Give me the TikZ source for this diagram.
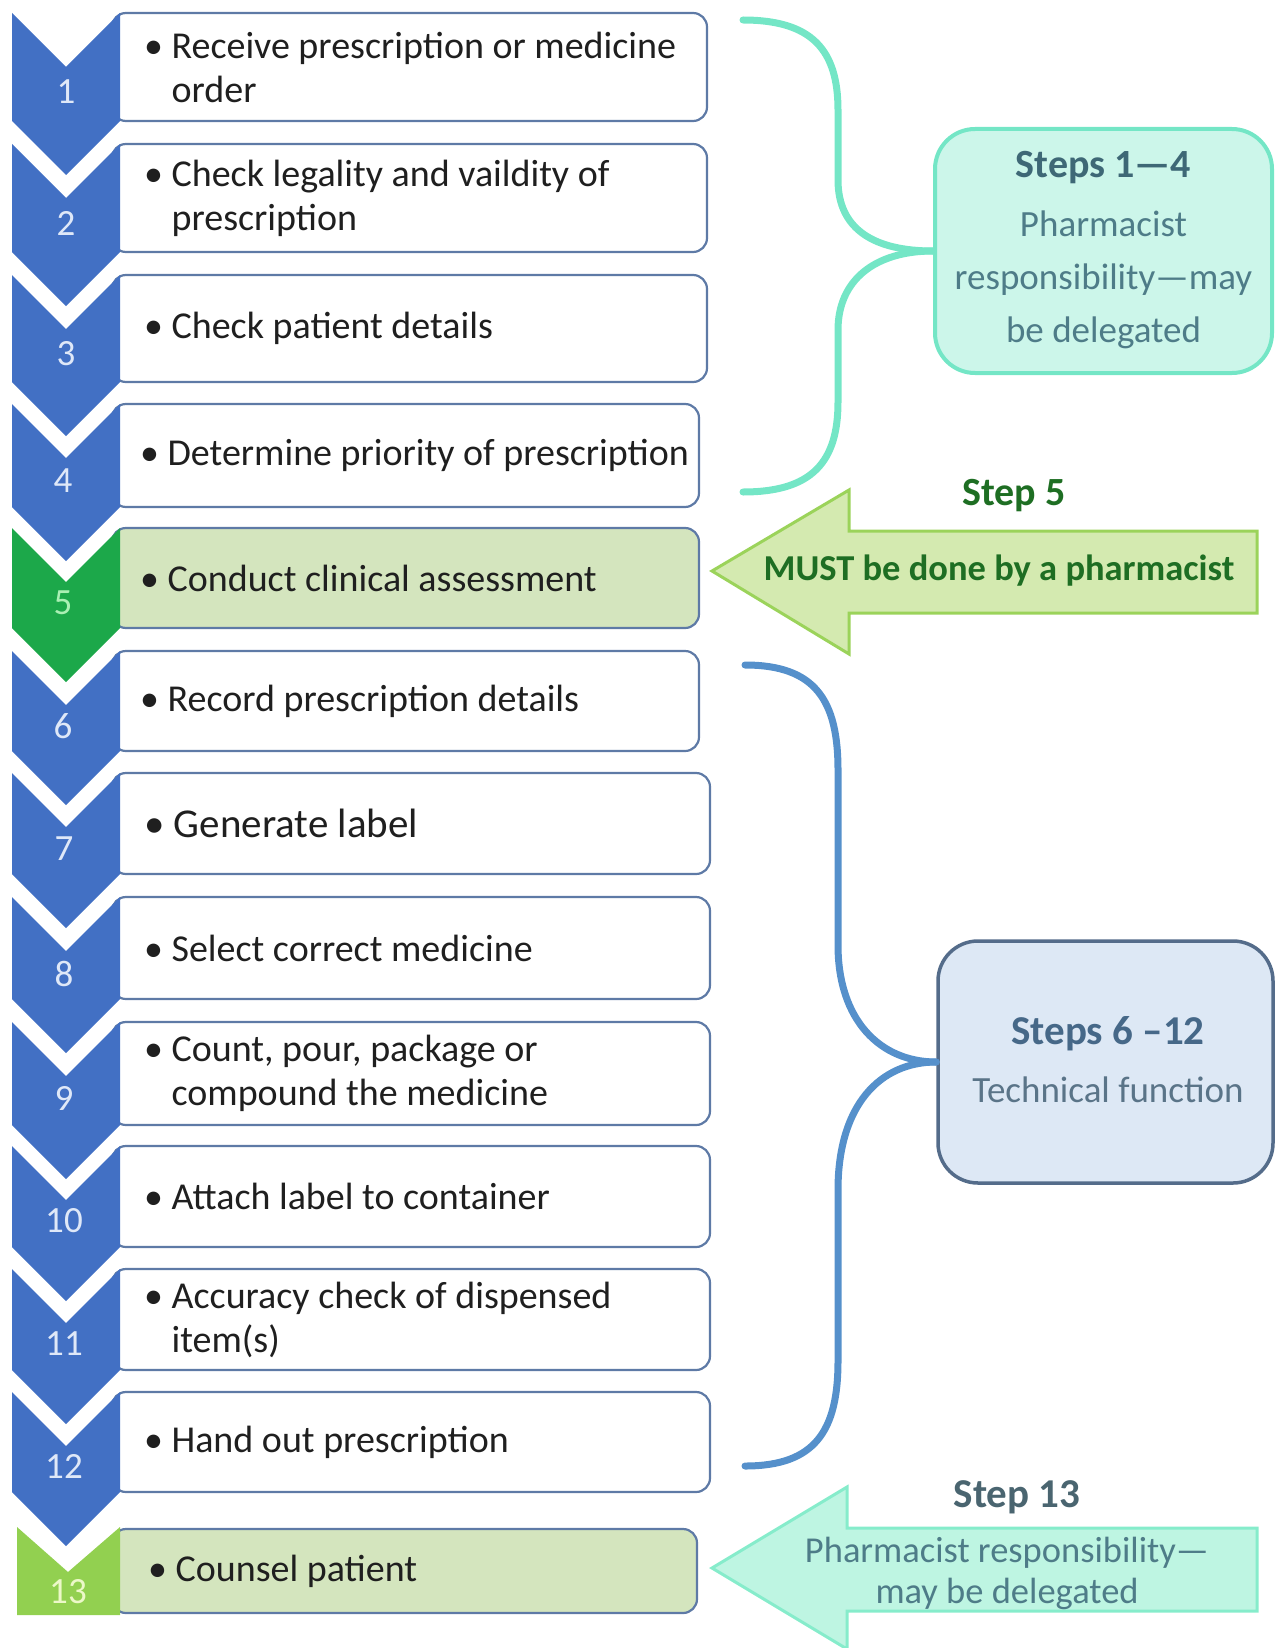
\documentclass[tikz,border=0pt]{standalone}
\usepackage{fontspec}
\setmainfont{Carlito}
\usetikzlibrary{positioning}
\definecolor{chevblue}{RGB}{66,112,196}
\definecolor{chevgreen}{RGB}{28,168,74}
\definecolor{chevlime}{RGB}{146,208,80}
\definecolor{numblue}{RGB}{223,232,248}
\definecolor{numgreen}{RGB}{170,240,180}
\definecolor{numlime}{RGB}{236,248,200}
\definecolor{boxline}{RGB}{94,122,166}
\definecolor{boxgreen}{RGB}{212,229,190}
\definecolor{tealline}{RGB}{116,230,198}
\definecolor{tealfill}{RGB}{204,246,234}
\definecolor{tealhead}{RGB}{62,104,118}
\definecolor{tealtext}{RGB}{78,124,136}
\definecolor{blueline}{RGB}{85,144,203}
\definecolor{bluefill}{RGB}{221,232,245}
\definecolor{bluebox}{RGB}{84,108,138}
\definecolor{bluehead}{RGB}{70,104,136}
\definecolor{bluetext}{RGB}{90,116,136}
\definecolor{greenfill}{RGB}{212,234,176}
\definecolor{greenline}{RGB}{155,211,90}
\definecolor{greentext}{RGB}{30,110,35}
\definecolor{aquafill}{RGB}{190,245,226}
\definecolor{aqualine}{RGB}{134,236,203}
\definecolor{aquahead}{RGB}{74,101,112}

\begin{document}
\begin{tikzpicture}[x=1pt, y=-1pt,
    stepbox/.style={draw=boxline, line width=2.2pt, fill=white, rounded corners=14pt, inner sep=0pt},
    steptext/.style={anchor=west, align=left, inner sep=0pt, text=black!88, font=\fontsize{38}{44}\selectfont},
    num/.style={inner sep=0pt, text=numblue, font=\fontsize{37}{37}\selectfont},
    sumtext/.style={align=center, inner sep=0pt},
    tealbrace/.style={draw=tealline, line width=7pt, line cap=round},
    bluebrace/.style={draw=blueline, line width=7pt, line cap=round}]
            \useasboundingbox (0,0) rectangle (1285,1648);
            \node[stepbox, minimum width=595, minimum height=108] (b1) at (409.5,67) {};
            \node[stepbox, minimum width=595, minimum height=108] (b2) at (409.5,198) {};
            \node[stepbox, minimum width=595, minimum height=107] (b3) at (409.5,328.5) {};
            \node[stepbox, minimum width=587, minimum height=103] (b4) at (405.5,455.5) {};
            \node[stepbox, fill=boxgreen, minimum width=587, minimum height=100] (b5) at (405.5,578) {};
            \node[stepbox, minimum width=587, minimum height=100] (b6) at (405.5,701) {};
            \node[stepbox, minimum width=598, minimum height=101] (b7) at (411,823.5) {};
            \node[stepbox, minimum width=598, minimum height=102] (b8) at (411,948) {};
            \node[stepbox, minimum width=598, minimum height=103] (b9) at (411,1073.5) {};
            \node[stepbox, minimum width=598, minimum height=101] (b10) at (411,1196.5) {};
            \node[stepbox, minimum width=598, minimum height=101] (b11) at (411,1319.5) {};
            \node[stepbox, minimum width=598, minimum height=100] (b12) at (411,1442) {};
            \node[stepbox, fill=boxgreen, minimum width=585, minimum height=84] (b13) at (404.5,1571) {};
            \fill[chevblue] (12,13) -- (66,67) -- (120,13) -- (120,121) -- (66,175) -- (12,121) -- cycle;
            \fill[chevblue] (12,144) -- (66,198) -- (120,144) -- (120,252) -- (66,306) -- (12,252) -- cycle;
            \fill[chevblue] (12,275) -- (66,329) -- (120,275) -- (120,382) -- (66,436) -- (12,382) -- cycle;
            \fill[chevblue] (12,404) -- (66,458) -- (120,404) -- (120,507) -- (66,561) -- (12,507) -- cycle;
            \fill[chevgreen] (12,528) -- (66,582) -- (120,528) -- (120,628) -- (66,682) -- (12,628) -- cycle;
            \fill[chevblue] (12,651) -- (66,705) -- (120,651) -- (120,751) -- (66,805) -- (12,751) -- cycle;
            \fill[chevblue] (12,773) -- (66,827) -- (120,773) -- (120,874) -- (66,928) -- (12,874) -- cycle;
            \fill[chevblue] (12,897) -- (66,951) -- (120,897) -- (120,999) -- (66,1053) -- (12,999) -- cycle;
            \fill[chevblue] (12,1022) -- (66,1076) -- (120,1022) -- (120,1125) -- (66,1179) -- (12,1125) -- cycle;
            \fill[chevblue] (12,1146) -- (66,1200) -- (120,1146) -- (120,1247) -- (66,1301) -- (12,1247) -- cycle;
            \fill[chevblue] (12,1269) -- (66,1323) -- (120,1269) -- (120,1370) -- (66,1424) -- (12,1370) -- cycle;
            \fill[chevblue] (12,1392) -- (66,1446) -- (120,1392) -- (120,1492) -- (66,1546) -- (12,1492) -- cycle;
            \fill[chevlime] (17,1527) -- (68,1572) -- (120,1527) -- (120,1615) -- (17,1615) -- cycle;
            \node[num] (n1) at (66,92) {1};
            \node[num] (n2) at (66,223) {2};
            \node[num] (n3) at (66,354) {3};
            \node[num] (n4) at (63,481) {4};
            \node[num, text=numgreen] (n5) at (63,603) {5};
            \node[num] (n6) at (63,726) {6};
            \node[num] (n7) at (64,849) {7};
            \node[num] (n8) at (64,974) {8};
            \node[num] (n9) at (64,1098) {9};
            \node[num] (n10) at (64,1221) {10};
            \node[num] (n11) at (64,1344) {11};
            \node[num] (n12) at (64,1466) {12};
            \node[num, text=numlime] (n13) at (68,1592) {13};
            \node[steptext] (t1) at ([xshift=33pt]b1.west) {\textbullet\ Receive prescription or medicine\\\phantom{\textbullet\ }order};
            \node[steptext] (t2) at ([xshift=33pt]b2.west) {\textbullet\ Check legality and vaildity of\\\phantom{\textbullet\ }prescription};
            \node[steptext] (t3) at ([xshift=33pt]b3.west) {\textbullet\ Check patient details};
            \node[steptext] (t4) at ([xshift=29pt]b4.west) {\textbullet\ Determine priority of prescription};
            \node[steptext] (t5) at ([xshift=29pt]b5.west) {\textbullet\ Conduct clinical assessment};
            \node[steptext] (t6) at ([xshift=29pt]b6.west) {\textbullet\ Record prescription details};
            \node[steptext, font=\fontsize{41}{44}\selectfont] (t7) at ([xshift=33pt]b7.west) {\textbullet\ Generate label};
            \node[steptext] (t8) at ([xshift=33pt]b8.west) {\textbullet\ Select correct medicine};
            \node[steptext] (t9) at ([xshift=33pt]b9.west) {\textbullet\ Count, pour, package or\\\phantom{\textbullet\ }compound the medicine};
            \node[steptext] (t10) at ([xshift=33pt]b10.west) {\textbullet\ Attach label to container};
            \node[steptext] (t11) at ([xshift=33pt]b11.west) {\textbullet\ Accuracy check of dispensed\\\phantom{\textbullet\ }item(s)};
            \node[steptext] (t12) at ([xshift=33pt]b12.west) {\textbullet\ Hand out prescription};
            \node[steptext] (t13) at ([xshift=37pt]b13.west) {\textbullet\ Counsel patient};
            \node[draw=tealline, line width=4pt, fill=tealfill, rounded corners=40pt, minimum width=337, minimum height=244] (sum1) at (1103.5,251) {};
            \node[sumtext, text=tealtext, font=\fontsize{37}{53}\selectfont] (sum1t) at (1103.5,250) {{\fontsize{40}{40}\selectfont\bfseries\color{tealhead}Steps 1—4}\\[6pt]Pharmacist\\responsibility—may\\be delegated};
            \node[draw=bluebox, line width=3.5pt, fill=bluefill, rounded corners=40pt, minimum width=335, minimum height=242] (sum2) at (1105.5,1062) {};
            \node[sumtext, text=bluetext, font=\fontsize{37}{58}\selectfont] (sum2t) at (1108,1060) {{\fontsize{41}{41}\selectfont\bfseries\color{bluehead}Steps 6 –12}\\Technical function};
            \coordinate (q1a) at (743,20);
            \coordinate (q1b) at (743,492);
            \coordinate (q2a) at (745,665);
            \coordinate (q2b) at (745,1466);
            \draw[tealbrace] (q1a) .. controls (812,20) and (838,50) .. (838,110) -- (838,180) .. controls (838,230) and (875,251) .. (sum1.west);
            \draw[tealbrace] (q1b) .. controls (812,492) and (838,462) .. (838,402) -- (838,330) .. controls (838,280) and (875,251) .. (sum1.west);
            \draw[bluebrace] (q2a) .. controls (815,665) and (838,700) .. (838,770) -- (838,945) .. controls (838,1020) and (880,1062) .. (sum2.west);
            \draw[bluebrace] (q2b) .. controls (815,1466) and (838,1431) .. (838,1361) -- (838,1190) .. controls (838,1105) and (880,1062) .. (sum2.west);
            \draw[draw=greenline, line width=3pt, fill=greenfill, line join=miter] (712,571) -- (849,490) -- (849,531) -- (1257,531) -- (1257,613) -- (849,613) -- (849,654) -- cycle;
            \node[text=greentext, font=\fontsize{40}{40}\selectfont\bfseries] (s5) at (1014,496) {Step 5};
            \node[text=greentext, font=\fontsize{36.5}{36.5}\selectfont\bfseries] (s5t) at (999,571) {MUST be done by a pharmacist};
            \draw[draw=aqualine, line width=3pt, fill=aquafill, line join=miter] (712,1568) -- (847,1487) -- (847,1528) -- (1257,1528) -- (1257,1611) -- (847,1611) -- (847,1649) -- cycle;
            \node[text=aquahead, font=\fontsize{41}{41}\selectfont\bfseries] (s13) at (1017,1497) {Step 13};
            \node[sumtext, text=tealtext, font=\fontsize{36.5}{41}\selectfont] (s13t) at (1007,1573) {Pharmacist responsibility—\\may be delegated};
        \end{tikzpicture}
\end{document}
